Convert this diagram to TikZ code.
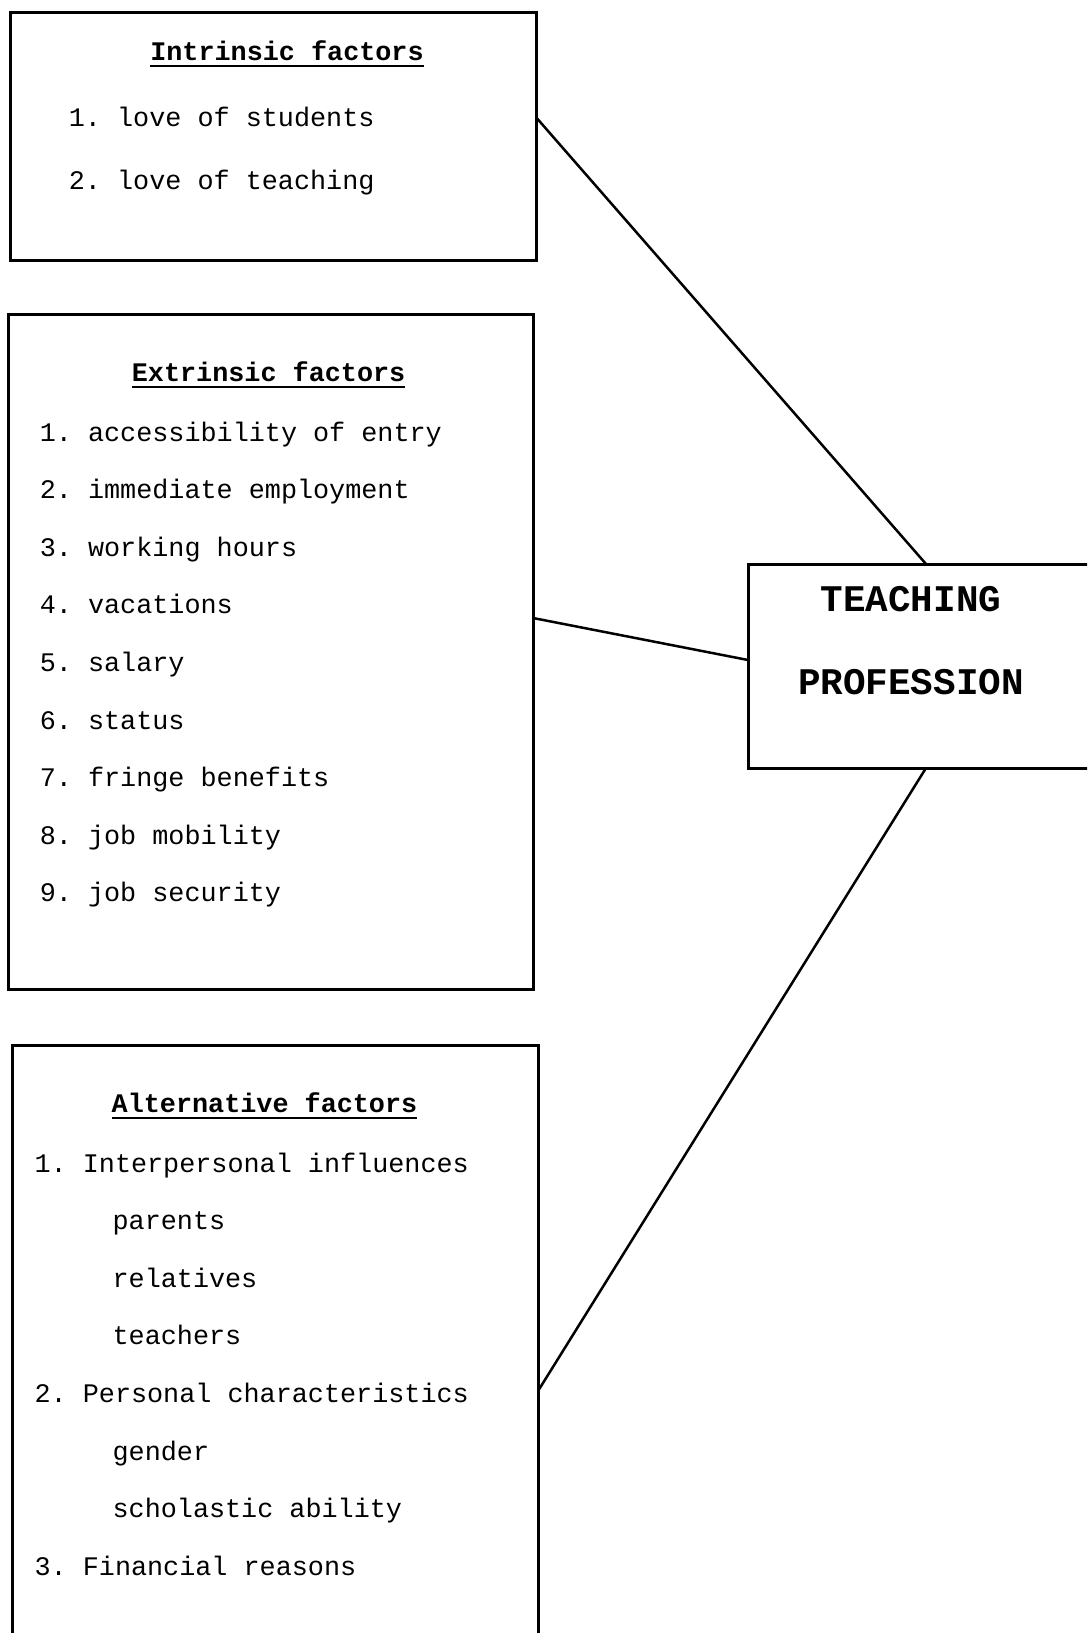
\documentclass[tikz,border=0pt]{standalone}
\usepackage{fontspec}
\usepackage{tikz}
\usetikzlibrary{calc,positioning}
\newfontfamily\courier{Liberation Mono}
\newcommand\headline[1]{\setbox0\hbox{\bfseries #1}\rlap{\rule[-7pt]{\wd0}{2.5pt}}\box0}
\tikzstyle{box} = [
  rectangle,
  draw,
  line width=3pt,
  inner sep=0pt,
  outer sep=0pt,
]
\tikzstyle{item} = [anchor=base west, inner sep=0pt]
\tikzstyle{head} = [anchor=base, inner sep=0pt]
\tikzstyle{link} = [line width=2.5pt]

\begin{document}
\begin{tikzpicture}[x=1pt,y=-1pt,font=\courier\frenchspacing\fontsize{26.8}{30}\selectfont]
			\useasboundingbox (0,0) rectangle (1087,1633);
			\clip (0,0) rectangle (1087,1633);

			\node[box,minimum width=526pt,minimum height=247.5pt] (intr) at (273,136.25) {};
			\node[box,minimum width=525pt,minimum height=675pt] (extr) at (270.5,651.5) {};
			\node[box,minimum width=525.5pt,minimum height=615pt] (alt) at (275.25,1352.5) {};
			\node[box,minimum width=356pt,minimum height=204pt] (prof) at (926,666) {};

			\node[head] (intrh) at (287,60) {\headline{Intrinsic factors}};
			\node[item] (intr1) at (68.7,126) {1. love of students};
			\node[item] (intr2) at (68.7,189) {2. love of teaching};

			\node[head] (extrh) at (268.6,381) {\headline{Extrinsic factors}};
			\foreach \t [count=\i] in {accessibility of entry,immediate employment,working hours,vacations,salary,status,fringe benefits,job mobility,job security}
				\node[item] (extr\i) at (39.6,{441+(\i-1)*57.6}) {\i. \t};

			\node[head] (alth) at (264.5,1112) {\headline{Alternative factors}};
			\node[item] (alt1) at (34.4,1172) {1. Interpersonal influences};
			\node[item] (alt2) at (112.4,1229.6) {parents};
			\node[item] (alt3) at (112.4,1287.2) {relatives};
			\node[item] (alt4) at (112.4,1344.8) {teachers};
			\node[item] (alt5) at (34.4,1402.4) {2. Personal characteristics};
			\node[item] (alt6) at (112.4,1460) {gender};
			\node[item] (alt7) at (112.4,1517.6) {scholastic ability};
			\node[item] (alt8) at (34.4,1575.2) {3. Financial reasons};

			\node[head,font=\courier\bfseries\fontsize{37.6}{40}\selectfont] (prof1) at (911,611) {TEACHING};
			\node[head,font=\courier\bfseries\fontsize{37.6}{40}\selectfont] (prof2) at (911,694) {PROFESSION};

			\draw[link] ([yshift=19pt]intr.east) -- (prof.north);
			\draw[link] ([yshift=33.5pt]extr.east) -- ([yshift=6pt]prof.west);
			\draw[link] ([yshift=-38.5pt]alt.east) -- (prof.south);
		\end{tikzpicture}
\end{document}
